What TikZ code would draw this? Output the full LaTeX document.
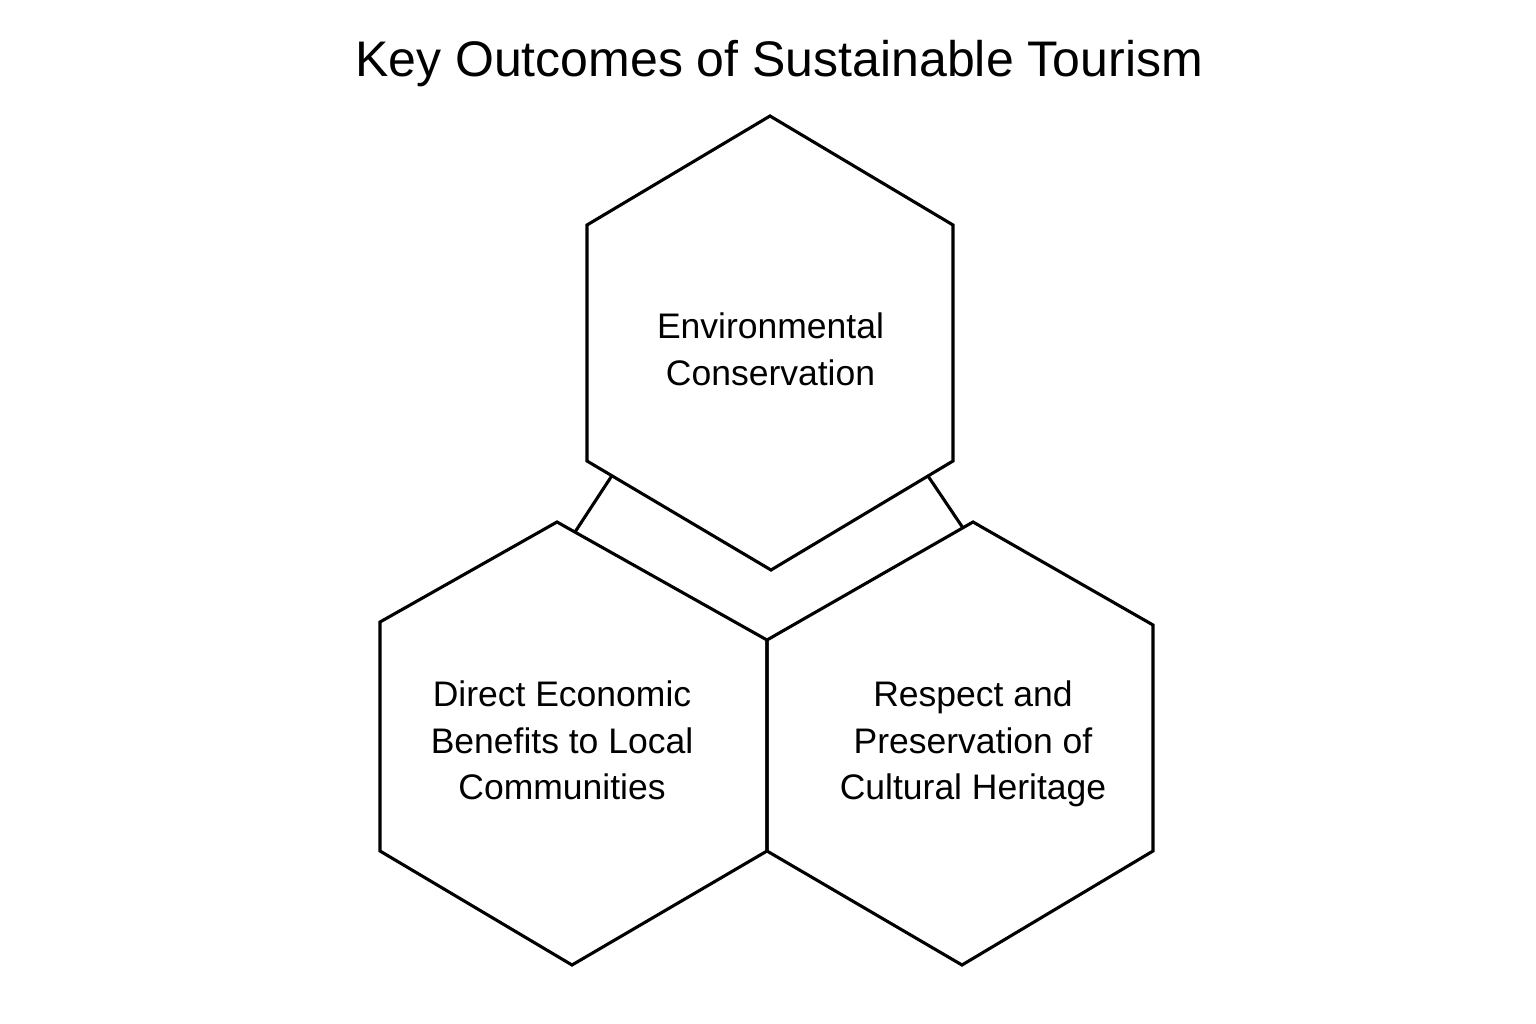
\documentclass[tikz,border=0pt]{standalone}
\usepackage{fontspec}
\setmainfont{Liberation Sans}
\begin{document}
\begin{tikzpicture}[x=1pt,y=-1pt,
  hexline/.style={draw=black,line width=3.1pt,line join=miter},
  linkline/.style={draw=black,line width=3.1pt},
  label/.style={inner sep=0pt,align=center,anchor=north,font=\fontsize{35.5}{46.5}\selectfont},
  titlelabel/.style={inner sep=0pt,anchor=base,font=\fontsize{50}{60}\selectfont}]
\useasboundingbox[fill=white] (0,0) rectangle (1536,1024);
% top hexagon
\coordinate (t1) at (770,116);
\coordinate (t2) at (953,225);
\coordinate (t3) at (953,461);
\coordinate (t4) at (771,570);
\coordinate (t5) at (587,461);
\coordinate (t6) at (587,225);
% left hexagon
\coordinate (l1) at (557,522);
\coordinate (l2) at (767,640);
\coordinate (l3) at (767,851);
\coordinate (l4) at (572,965);
\coordinate (l5) at (380,851);
\coordinate (l6) at (380,622);
% right hexagon
\coordinate (r1) at (973,522);
\coordinate (r2) at (1153,625);
\coordinate (r3) at (1153,851);
\coordinate (r4) at (962,965);
\coordinate (r5) at (767,851);
\coordinate (r6) at (767,640);
% connector ends
\coordinate (ca) at (612,475.5);
\coordinate (cb) at (575,532);
\coordinate (cc) at (928,476);
\coordinate (cd) at (963,528);

\draw[hexline] (t1) -- (t2) -- (t3) -- (t4) -- (t5) -- (t6) -- cycle;
\draw[hexline] (l1) -- (l2) -- (l3) -- (l4) -- (l5) -- (l6) -- cycle;
\draw[hexline] (r1) -- (r2) -- (r3) -- (r4) -- (r5) -- (r6) -- cycle;
\draw[linkline] (ca) -- (cb);
\draw[linkline] (cc) -- (cd);

\node[titlelabel] (title) at (779,76.5) {Key Outcomes of Sustainable Tourism};
\node[label] (env) at (770.5,312.6) {Environmental\\Conservation};
\node[label] (econ) at (562,680.6) {Direct Economic\\Benefits to Local\\Communities};
\node[label] (cult) at (973,680.6) {Respect and\\Preservation of\\Cultural Heritage};
\end{tikzpicture}
\end{document}
